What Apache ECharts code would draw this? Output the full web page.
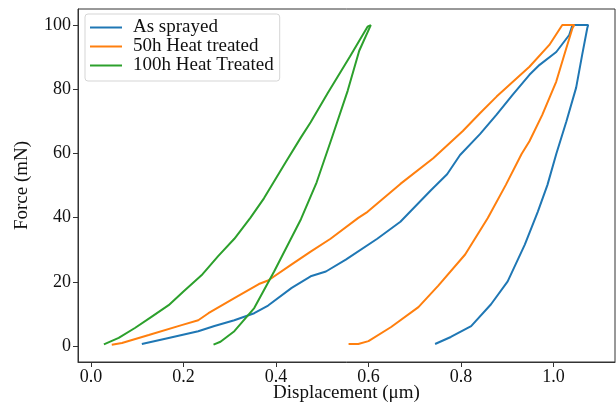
<!DOCTYPE html>
<html>
<head>
<meta charset="utf-8">
<script src="https://cdn.jsdelivr.net/npm/echarts@6/dist/echarts.min.js"></script>
<style>
  html, body { margin: 0; padding: 0; background: #fff; }
  #chart { width: 616px; height: 403px; }
</style>
</head>
<body>
<div id="chart"></div>
<script>
// Load-displacement curves: [displacement (um), force (mN)]
const asSprayed = [
  [0.11, 0.6], [0.168, 2.5], [0.232, 4.6], [0.267, 6.2], [0.31, 8], [0.353, 10.2],
  [0.383, 12.6], [0.434, 18.1], [0.475, 21.7], [0.508, 23.2], [0.551, 26.9],
  [0.619, 33.4], [0.669, 38.7], [0.735, 48.5], [0.77, 53.5], [0.798, 59.5],
  [0.841, 66], [0.877, 72.1], [0.912, 78.3], [0.948, 84.5], [0.97, 87.6],
  [1.006, 91.6], [1.034, 96.9], [1.041, 100],
  [1.075, 100],
  [1.073, 99], [1.062, 90.7], [1.049, 80.5], [1.028, 70], [1.006, 59.8],
  [0.987, 50.2], [0.966, 41.8], [0.938, 31.6], [0.901, 20.1], [0.865, 13],
  [0.822, 6.2], [0.778, 2.8], [0.744, 0.6]
];
const heat50h = [
  [0.045, 0.4], [0.067, 0.9], [0.125, 3.4], [0.196, 6.5], [0.232, 8], [0.254, 10.2],
  [0.31, 14.9], [0.363, 19.3], [0.383, 20.4], [0.434, 25.4], [0.475, 29.4],
  [0.518, 33.4], [0.578, 39.9], [0.598, 41.8], [0.669, 50.5], [0.74, 58.5],
  [0.804, 67], [0.841, 72.5], [0.877, 77.7], [0.948, 87], [0.991, 93.8],
  [1.019, 100],
  [1.045, 100],
  [1.041, 99], [1.028, 92.9], [1.006, 82.4], [0.976, 72.1], [0.948, 63.8],
  [0.931, 59.8], [0.897, 50.2], [0.858, 39.9], [0.809, 28.5], [0.751, 18.8],
  [0.708, 12.1], [0.649, 5.9], [0.6, 1.5], [0.578, 0.6], [0.557, 0.6]
];
const heat100h = [
  [0.028, 0.5], [0.06, 2.5], [0.095, 5.6], [0.13, 9], [0.168, 12.7], [0.2, 17],
  [0.239, 22], [0.275, 28], [0.31, 33.4], [0.345, 40], [0.374, 46], [0.42, 57],
  [0.454, 65], [0.475, 69.7], [0.512, 78.8], [0.56, 90.2], [0.598, 99.5], [0.6, 100],
  [0.605, 100],
  [0.58, 92], [0.555, 79.5], [0.52, 64.5], [0.488, 51], [0.454, 39.5], [0.396, 23.2],
  [0.353, 11.8], [0.31, 4.6], [0.28, 1.3], [0.265, 0.4]
];
const seriesNames = ['As sprayed', '50h Heat treated', '100h Heat Treated'];
const xTicks = [0, 0.2, 0.4, 0.6, 0.8, 1.0];
const yTicks = [0, 20, 40, 60, 80, 100];

const colors = ['#1f77b4', '#ff7f0e', '#2ca02c'];
const font = '"Liberation Serif", "DejaVu Serif", serif';

const chart = echarts.init(document.getElementById('chart'));

const makeSeries = (name, data, color) => ({
  name,
  type: 'line',
  data,
  symbol: 'none',
  smooth: false,
  lineStyle: { color, width: 2 },
  itemStyle: { color },
  z: 3
});

chart.setOption({
  animation: false,
  color: colors,
  grid: {
    left: 78, right: 1, top: 9, bottom: 41,
    outerBoundsMode: 'none',
    containLabel: false,
    show: true, borderColor: '#333', borderWidth: 1, backgroundColor: 'transparent'
  },
  legend: {
    orient: 'vertical',
    left: 85,
    top: 14,
    padding: [4, 6, 6, 5],
    icon: 'rect',
    itemWidth: 32,
    itemHeight: 2,
    itemGap: 0,
    borderColor: '#d5d5d5',
    borderWidth: 1,
    borderRadius: 3,
    backgroundColor: 'rgba(255,255,255,0.8)',
    textStyle: { fontFamily: font, fontSize: 19, color: '#111', lineHeight: 15, padding: [0, 0, 0, 6] },
    data: seriesNames
  },
  xAxis: {
    type: 'value',
    min: -0.028,
    max: 1.133,
    name: 'Displacement (\u03bcm)',
    nameLocation: 'middle',
    nameGap: 22,
    nameMoveOverlap: false,
    nameTextStyle: { fontFamily: font, fontSize: 19, color: '#111', verticalAlign: 'top' },
    axisLine: { show: true, onZero: false, lineStyle: { color: '#333', width: 1 } },
    axisTick: { show: true, length: 5, customValues: xTicks, lineStyle: { color: '#333' } },
    axisLabel: {
      customValues: xTicks,
      margin: 6,
      fontFamily: font, fontSize: 18, color: '#111',
      formatter: v => v.toFixed(1)
    },
    splitLine: { show: false }
  },
  yAxis: {
    type: 'value',
    min: -5,
    max: 105,
    name: 'Force (mN)',
    nameLocation: 'middle',
    nameRotate: 90,
    nameGap: 46,
    nameMoveOverlap: false,
    nameTextStyle: { fontFamily: font, fontSize: 19, color: '#111' },
    axisLine: { show: true, onZero: false, lineStyle: { color: '#333', width: 1 } },
    axisTick: { show: true, length: 5, customValues: yTicks, lineStyle: { color: '#333' } },
    axisLabel: {
      customValues: yTicks,
      margin: 7,
      fontFamily: font, fontSize: 18, color: '#111'
    },
    splitLine: { show: false }
  },
  series: [
    makeSeries(seriesNames[0], asSprayed, colors[0]),
    makeSeries(seriesNames[1], heat50h, colors[1]),
    makeSeries(seriesNames[2], heat100h, colors[2])
  ]
});
</script>
</body>
</html>
